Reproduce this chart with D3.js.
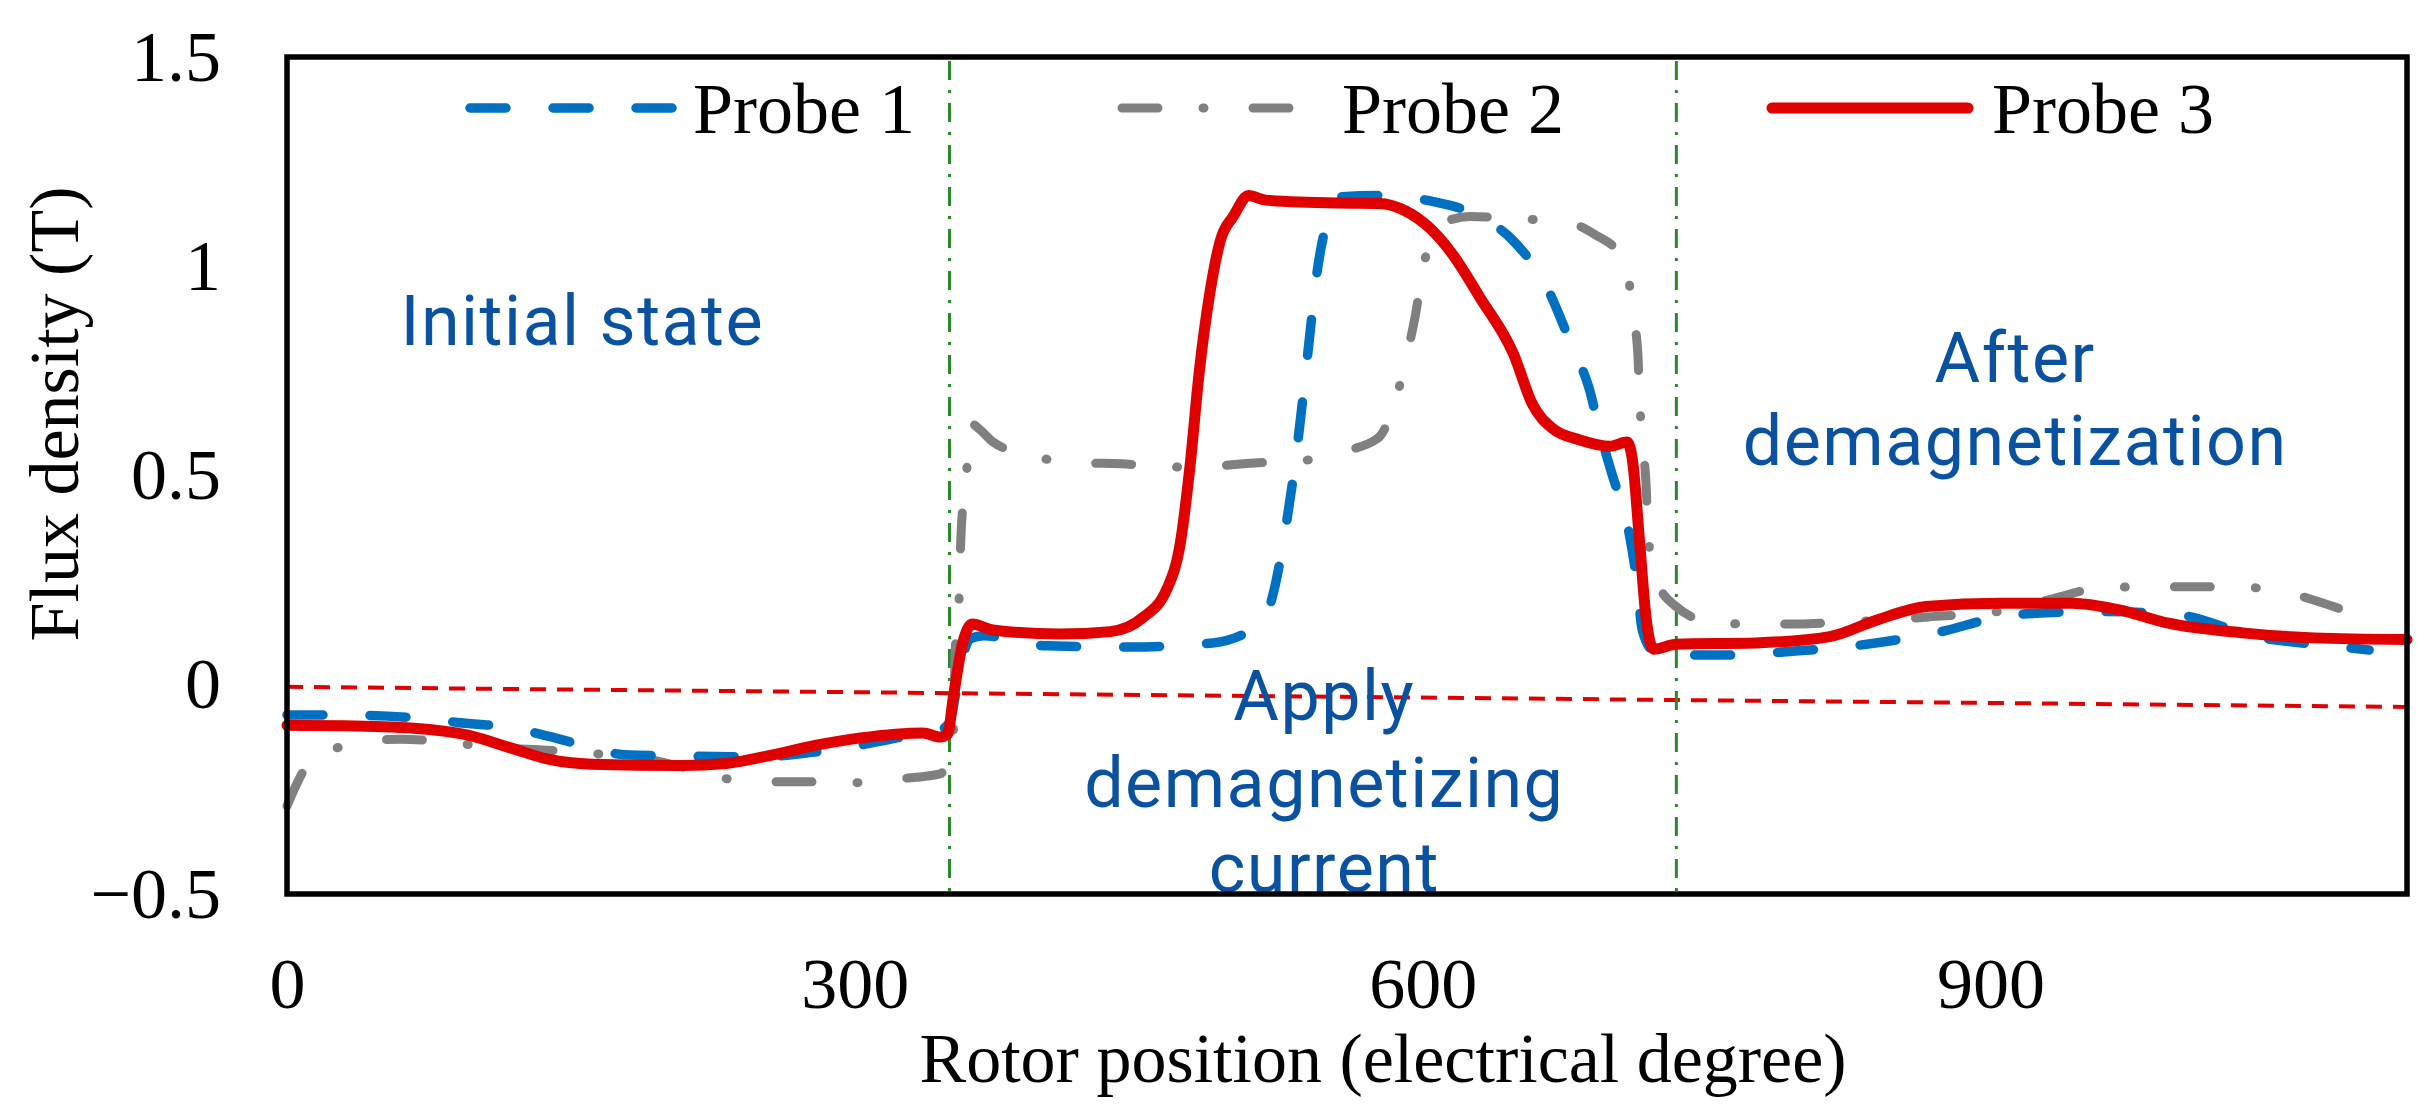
<!DOCTYPE html>
<html>
<head>
<meta charset="utf-8">
<script src="https://cdn.jsdelivr.net/npm/d3@7"></script>
<style>
  html, body { margin: 0; padding: 0; background: #fff; }
  svg { display: block; }
</style>
</head>
<body>
<svg id="chart" width="2430" height="1120"></svg>
<script>
// ---------------- DATA ----------------
const probe1X = [0, 40, 70, 90, 120, 139, 159, 178, 217, 250, 280, 303, 321, 345, 350, 356, 361, 368, 401, 445, 489, 512, 519, 528, 534, 539, 544, 552, 556, 577, 604, 630, 648, 665, 679, 688, 693.5, 700.5, 708, 713, 716, 722, 730, 771, 784, 828, 871, 912, 955, 999, 1040, 1084, 1100];
const probe1Y = [-0.072, -0.073, -0.080, -0.090, -0.104, -0.124, -0.148, -0.167, -0.171, -0.172, -0.160, -0.144, -0.128, -0.108, -0.090, 0.050, 0.110, 0.117, 0.093, 0.090, 0.100, 0.140, 0.186, 0.386, 0.580, 0.780, 0.980, 1.140, 1.166, 1.169, 1.156, 1.119, 1.060, 0.955, 0.807, 0.707, 0.606, 0.496, 0.386, 0.250, 0.131, 0.080, 0.071, 0.071, 0.076, 0.093, 0.124, 0.167, 0.175, 0.167, 0.115, 0.091, 0.083];

const probe2X = [0, 9, 20, 29, 60, 80, 110, 140, 166, 193, 212, 233, 259, 281, 302, 323, 345, 350, 352, 353, 355, 356, 359, 361, 366, 373, 396, 420, 441, 465, 488, 511, 532, 556, 576, 586, 592, 596, 600, 609, 625, 649, 672, 692, 702, 708, 711, 713.6, 714.6, 716, 718, 719, 722, 733, 755, 777, 799, 822, 848, 867, 891, 915, 934, 958, 982, 1003, 1027, 1051, 1071, 1093, 1100];
const probe2Y = [-0.290, -0.204, -0.160, -0.148, -0.130, -0.135, -0.150, -0.157, -0.166, -0.180, -0.200, -0.225, -0.232, -0.232, -0.234, -0.225, -0.213, -0.170, -0.116, 0.076, 0.195, 0.350, 0.506, 0.625, 0.610, 0.580, 0.544, 0.530, 0.528, 0.520, 0.522, 0.530, 0.533, 0.556, 0.588, 0.685, 0.795, 0.880, 0.990, 1.100, 1.119, 1.113, 1.110, 1.073, 1.040, 0.993, 0.886, 0.795, 0.685, 0.580, 0.480, 0.374, 0.265, 0.190, 0.147, 0.145, 0.145, 0.150, 0.155, 0.162, 0.169, 0.183, 0.207, 0.231, 0.234, 0.234, 0.234, 0.226, 0.202, 0.169, 0.160];

const probe3X = [0, 30, 67, 95, 119, 138, 161, 209, 232, 256, 279, 303, 336, 345, 349, 352, 357, 362, 373, 408, 435, 452, 465, 472, 477, 482, 487.5, 493, 500, 508, 517, 556, 577, 591, 604, 616, 630, 648, 658, 669, 683, 699, 708, 711, 714.6, 718, 722, 734, 776, 815, 840, 866, 905, 943, 968, 994, 1033, 1071, 1120];
const probe3Y = [-0.097, -0.098, -0.104, -0.120, -0.152, -0.178, -0.190, -0.193, -0.188, -0.168, -0.145, -0.127, -0.115, -0.125, -0.118, -0.030, 0.100, 0.145, 0.131, 0.121, 0.127, 0.160, 0.230, 0.340, 0.520, 0.750, 0.935, 1.060, 1.120, 1.169, 1.158, 1.151, 1.150, 1.132, 1.090, 1.027, 0.927, 0.790, 0.670, 0.611, 0.585, 0.570, 0.580, 0.530, 0.340, 0.160, 0.085, 0.097, 0.100, 0.115, 0.155, 0.187, 0.195, 0.195, 0.179, 0.147, 0.124, 0.112, 0.108];

const seriesNames = ["Probe 1", "Probe 2", "Probe 3"];
const xTicks = [0, 300, 600, 900];
const yTicks = [-0.5, 0, 0.5, 1, 1.5];
const yTickLabels = ["\u22120.5", "0", "0.5", "1", "1.5"];
const phaseBoundaries = [350, 734];
const refLineX = [0, 1120];
const refLineY = [-0.005, -0.053];
const annotationLines = [
  ["Initial state"],
  ["After", "demagnetization"],
  ["Apply", "demagnetizing", "current"]
];
const xTitle = "Rotor position (electrical degree)";
const yTitle = "Flux density (T)";

// ---------------- LAYOUT ----------------
const W = 2430, H = 1120;
const M = { left: 287, right: 2407, top: 57, bottom: 894 };
const x = d3.scaleLinear().domain([0, 1120]).range([M.left, M.right]);
const y = d3.scaleLinear().domain([-0.5, 1.5]).range([M.bottom, M.top]);

const svg = d3.select("#chart");
const serif = "'Liberation Serif', 'Times New Roman', serif";
const sans = "Roboto, 'Noto Sans', sans-serif";

const styles = [
  { color: "#0070C0", width: 9.5, dash: "36,47" },
  { color: "#808080", width: 9, dash: "36,45,1,49" },
  { color: "#E00000", width: 11, dash: null }
];

// reference (zero) line
const refData = refLineX.map((d, i) => [d, refLineY[i]]);
svg.append("path")
  .datum(refData)
  .attr("d", d3.line().x(d => x(d[0])).y(d => y(d[1])))
  .attr("fill", "none")
  .attr("stroke", "#E00000")
  .attr("stroke-width", 4)
  .attr("stroke-dasharray", "16,11");

// phase boundaries
svg.selectAll("line.phase")
  .data(phaseBoundaries)
  .enter().append("line")
  .attr("class", "phase")
  .attr("x1", d => x(d)).attr("x2", d => x(d))
  .attr("y1", y(1.5) + 4).attr("y2", y(-0.5))
  .attr("stroke", "#2A8A2A")
  .attr("stroke-width", 3)
  .attr("stroke-dasharray", "19,10,3,10");

// series
const seriesData = [
  probe1X.map((d, i) => [d, probe1Y[i]]),
  probe2X.map((d, i) => [d, probe2Y[i]]),
  probe3X.map((d, i) => [d, probe3Y[i]])
];
const line = d3.line().x(d => x(d[0])).y(d => y(d[1])).curve(d3.curveMonotoneX);
const drawOrder = [1, 0, 2];
drawOrder.forEach(i => {
  const p = svg.append("path")
    .datum(seriesData[i])
    .attr("d", line)
    .attr("fill", "none")
    .attr("stroke", styles[i].color)
    .attr("stroke-width", styles[i].width)
    .attr("stroke-linecap", "round")
    .attr("stroke-linejoin", "round");
  if (styles[i].dash) p.attr("stroke-dasharray", styles[i].dash);
});

// annotations
const annoColor = "#0A52A0";
const annoPos = [
  { x: 156, y: [0.812] },
  { x: 913, y: [0.723, 0.525] },
  { x: 548, y: [-0.084, -0.292, -0.495] }
];
annotationLines.forEach((lines, k) => {
  lines.forEach((t, j) => {
    svg.append("text")
      .attr("x", x(annoPos[k].x))
      .attr("y", y(annoPos[k].y[j]))
      .attr("text-anchor", "middle")
      .attr("font-family", sans)
      .attr("font-size", 70)
      .attr("letter-spacing", 1.5)
      .attr("fill", annoColor)
      .text(t);
  });
});

// axes
const yAxis = d3.axisLeft(y).tickValues(yTicks).tickSize(0).tickPadding(66)
  .tickFormat(d => yTickLabels[yTicks.indexOf(d)]);
const gy = svg.append("g").attr("transform", `translate(${M.left},0)`).call(yAxis);
gy.select(".domain").remove();
gy.selectAll("text").attr("font-family", serif).attr("font-size", 72).attr("fill", "#000");

const xAxis = d3.axisBottom(x).tickValues(xTicks).tickSize(0).tickPadding(63).tickFormat(d3.format("d"));
const gx = svg.append("g").attr("transform", `translate(0,${M.bottom})`).call(xAxis);
gx.select(".domain").remove();
gx.selectAll("text").attr("font-family", serif).attr("font-size", 72).attr("fill", "#000");

// frame
svg.append("rect")
  .attr("x", M.left).attr("y", M.top)
  .attr("width", M.right - M.left).attr("height", M.bottom - M.top)
  .attr("fill", "none").attr("stroke", "#000").attr("stroke-width", 5.5);

// titles
svg.append("text")
  .attr("x", 1383).attr("y", 1082)
  .attr("text-anchor", "middle")
  .attr("font-family", serif).attr("font-size", 70)
  .text(xTitle);
svg.append("text")
  .attr("transform", "translate(78,414) rotate(-90)")
  .attr("text-anchor", "middle")
  .attr("font-family", serif).attr("font-size", 70)
  .text(yTitle);

// legend
const legendItems = [
  { x1: 470, x2: 672, tx: 693 },
  { x1: 1122, x2: 1290, tx: 1342 },
  { x1: 1772, x2: 1968, tx: 1992 }
];
legendItems.forEach((it, i) => {
  const l = svg.append("line")
    .attr("x1", it.x1).attr("x2", it.x2)
    .attr("y1", 108).attr("y2", 108)
    .attr("stroke", styles[i].color)
    .attr("stroke-width", styles[i].width)
    .attr("stroke-linecap", "round");
  if (styles[i].dash) l.attr("stroke-dasharray", styles[i].dash);
  svg.append("text")
    .attr("x", it.tx).attr("y", 133)
    .attr("font-family", serif).attr("font-size", 72)
    .text(seriesNames[i]);
});
</script>
</body>
</html>
